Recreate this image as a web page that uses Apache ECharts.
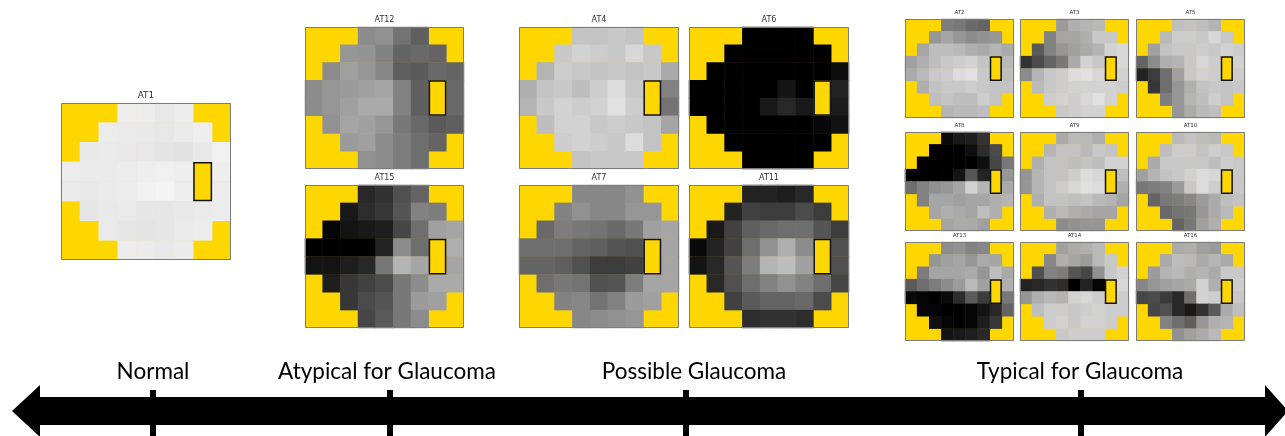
<!DOCTYPE html>
<html>
<head>
<meta charset="utf-8">
<title>Visual field archetypes</title>
<script src="https://cdn.jsdelivr.net/npm/echarts@6/dist/echarts.min.js"></script>
<style>
  html, body { margin: 0; padding: 0; background: #ffffff; }
  #chart { width: 1285px; height: 436px; }
</style>
</head>
<body>
<div id="chart"></div>
<script>
// Grey level (0 = black, 255 = white) of each test location of a 24-2 field,
// one row per line, listed from the first in-field column of that row.
// null marks the blind spot.
const AT1 = [
  [238, 236, 231, 236],
  [236, 234, 233, 231, 234, 238],
  [233, 234, 233, 231, 228, 226, 232, 240],
  [236, 234, 234, 236, 238, 240, 238, null, 238],
  [234, 232, 234, 236, 241, 244, 238, null, 236],
  [230, 233, 234, 230, 230, 232, 234, 236],
  [234, 230, 228, 230, 234, 236],
  [236, 234, 232, 234]
];
const AT12 = [
  [140, 145, 115, 95],
  [150, 148, 130, 100, 105, 100],
  [140, 160, 150, 135, 95, 90, 105, 100],
  [140, 150, 155, 160, 165, 130, 95, null, 105],
  [140, 150, 160, 170, 170, 130, 95, null, 105],
  [145, 165, 160, 150, 120, 105, 90, 95],
  [155, 160, 140, 125, 110, 100],
  [145, 140, 125, 110]
];
const AT15 = [
  [40, 50, 80, 100],
  [25, 45, 55, 85, 130, 125],
  [5, 20, 25, 30, 70, 110, 160, 165],
  [0, 0, 0, 0, 35, 140, 110, null, 175],
  [20, 20, 30, 40, 120, 180, 165, null, 165],
  [30, 55, 65, 75, 120, 140, 170, 170],
  [55, 75, 85, 120, 155, 160],
  [70, 90, 120, 140]
];
const AT4 = [
  [195, 195, 200, 195],
  [200, 210, 205, 200, 215, 200],
  [180, 205, 200, 195, 200, 195, 200, 170],
  [175, 195, 200, 190, 205, 220, 200, null, 130],
  [180, 200, 210, 205, 210, 225, 205, null, 115],
  [190, 210, 210, 200, 205, 200, 195, 165],
  [205, 210, 205, 200, 220, 195],
  [195, 200, 200, 200]
];
const AT6 = [
  [0, 0, 0, 0],
  [0, 0, 0, 0, 0, 0],
  [0, 0, 0, 0, 0, 0, 0, 12],
  [0, 0, 0, 0, 0, 20, 0, null, 35],
  [0, 0, 0, 0, 25, 40, 25, null, 28],
  [0, 0, 0, 0, 0, 0, 8, 18],
  [0, 0, 0, 0, 0, 0],
  [0, 0, 0, 0]
];
const AT7 = [
  [135, 135, 135, 145],
  [130, 145, 135, 135, 150, 150],
  [105, 125, 120, 115, 105, 120, 160, 165],
  [110, 110, 110, 100, 95, 85, 80, null, 165],
  [100, 100, 95, 80, 60, 60, 65, null, 165],
  [110, 120, 115, 80, 85, 125, 165, 165],
  [130, 135, 115, 130, 155, 160],
  [135, 140, 145, 150]
];
const AT11 = [
  [35, 35, 30, 40],
  [35, 65, 60, 60, 75, 60],
  [25, 65, 95, 105, 110, 110, 85, 60],
  [10, 35, 65, 110, 145, 175, 140, null, 80],
  [20, 40, 85, 125, 180, 190, 160, null, 80],
  [40, 80, 110, 130, 145, 130, 110, 70],
  [65, 90, 100, 100, 105, 75],
  [45, 50, 50, 45]
];
const AT2 = [
  [125, 120, 105, 100],
  [150, 165, 150, 140, 145, 150],
  [165, 190, 190, 185, 175, 170, 180, 170],
  [160, 175, 190, 200, 205, 210, 195, null, 185],
  [170, 185, 200, 205, 220, 225, 200, null, 190],
  [175, 195, 200, 200, 205, 200, 195, 195],
  [190, 195, 190, 190, 205, 195],
  [180, 185, 185, 190]
];
const AT3 = [
  [155, 175, 180, 185],
  [130, 165, 165, 175, 200, 200],
  [90, 130, 150, 160, 170, 180, 210, 215],
  [50, 75, 100, 120, 170, 210, 200, null, 215],
  [140, 180, 200, 205, 220, 225, 215, null, 210],
  [185, 200, 205, 210, 210, 210, 210, 205],
  [205, 210, 205, 215, 225, 210],
  [200, 205, 210, 210]
];
const AT5 = [
  [190, 195, 190, 180],
  [185, 205, 205, 200, 215, 200],
  [160, 195, 200, 200, 205, 200, 210, 205],
  [100, 140, 175, 180, 200, 215, 205, null, 210],
  [35, 60, 110, 160, 200, 210, 205, null, 205],
  [55, 110, 150, 175, 195, 200, 195, 200],
  [125, 150, 180, 190, 205, 195],
  [150, 170, 185, 190]
];
const AT8 = [
  [10, 25, 30, 50],
  [0, 0, 0, 15, 45, 75],
  [0, 0, 0, 0, 0, 15, 70, 120],
  [0, 0, 0, 0, 20, 85, 35, null, 150],
  [110, 130, 145, 150, 165, 210, 180, null, 170],
  [130, 165, 165, 160, 165, 165, 175, 180],
  [165, 175, 170, 165, 190, 175],
  [165, 170, 170, 160]
];
const AT9 = [
  [170, 185, 185, 175],
  [180, 195, 195, 185, 200, 195],
  [175, 195, 195, 190, 195, 190, 210, 210],
  [150, 180, 195, 195, 205, 220, 215, null, 190],
  [150, 180, 195, 205, 215, 225, 220, null, 175],
  [175, 195, 195, 190, 195, 185, 180, 165],
  [175, 185, 175, 170, 165, 165],
  [140, 145, 150, 150]
];
const AT10 = [
  [185, 195, 190, 185],
  [190, 205, 205, 195, 205, 200],
  [170, 200, 200, 200, 200, 190, 205, 200],
  [160, 180, 195, 200, 210, 220, 215, null, 200],
  [120, 125, 130, 155, 200, 220, 205, null, 200],
  [100, 120, 125, 135, 155, 170, 190, 195],
  [105, 115, 120, 150, 170, 185],
  [100, 120, 160, 175]
];
const AT13 = [
  [140, 145, 130, 135],
  [150, 160, 165, 150, 170, 165],
  [125, 165, 165, 165, 170, 150, 190, 170],
  [90, 110, 125, 140, 155, 185, 160, null, 175],
  [10, 5, 0, 10, 45, 90, 60, null, 120],
  [5, 5, 0, 0, 5, 20, 40, 100],
  [15, 5, 0, 5, 30, 55],
  [20, 25, 30, 40]
];
const AT14 = [
  [160, 170, 175, 185],
  [135, 175, 165, 155, 185, 200],
  [80, 130, 125, 85, 70, 145, 200, 210],
  [35, 40, 50, 45, 0, 35, 5, null, 215],
  [150, 175, 185, 180, 210, 215, 205, null, 205],
  [190, 205, 205, 200, 205, 210, 205, 205],
  [205, 210, 200, 210, 210, 205],
  [200, 205, 205, 205]
];
const AT16 = [
  [170, 175, 160, 155],
  [170, 190, 185, 170, 180, 170],
  [155, 180, 185, 175, 180, 170, 200, 200],
  [135, 150, 160, 165, 170, 210, 175, null, 205],
  [70, 75, 60, 40, 110, 210, 205, null, 200],
  [70, 80, 40, 25, 50, 90, 170, 190],
  [130, 110, 95, 150, 175, 180],
  [145, 160, 170, 185]
];

const ARCHETYPES = { AT1, AT12, AT15, AT4, AT6, AT7, AT11, AT2, AT3, AT5, AT8, AT9, AT10, AT13, AT14, AT16 };

// Stages along the bottom axis
const STAGES = ['Normal', 'Atypical for Glaucoma', 'Possible Glaucoma', 'Typical for Glaucoma'];

// 24-2 grid: 9 columns x 8 rows, first in-field column of each row
const COLS = ['0', '1', '2', '3', '4', '5', '6', '7', '8'];
const ROWS = ['0', '1', '2', '3', '4', '5', '6', '7'];
const ROW_START = [3, 2, 1, 0, 0, 1, 2, 3];
const BLIND_SPOT = [7, 3];

// ---- layout ----
const YELLOW = '#FFD700';
const PANELS = {
  AT1:  { x: 61,   y: 103, w: 170, h: 157, fs: 9 },
  AT12: { x: 305,  y: 27,  w: 159, h: 142, fs: 8 },
  AT15: { x: 305,  y: 185, w: 159, h: 143, fs: 8 },
  AT4:  { x: 519,  y: 27,  w: 160, h: 142, fs: 8 },
  AT6:  { x: 689,  y: 27,  w: 160, h: 142, fs: 8 },
  AT7:  { x: 519,  y: 185, w: 160, h: 143, fs: 8 },
  AT11: { x: 689,  y: 185, w: 160, h: 143, fs: 8 },
  AT2:  { x: 905,  y: 19,  w: 109, h: 99,  fs: 5.5 },
  AT3:  { x: 1020, y: 19,  w: 109, h: 99,  fs: 5.5 },
  AT5:  { x: 1136, y: 19,  w: 109, h: 99,  fs: 5.5 },
  AT8:  { x: 905,  y: 132, w: 109, h: 99,  fs: 5.5 },
  AT9:  { x: 1020, y: 132, w: 109, h: 99,  fs: 5.5 },
  AT10: { x: 1136, y: 132, w: 109, h: 99,  fs: 5.5 },
  AT13: { x: 905,  y: 242, w: 109, h: 99,  fs: 5.5 },
  AT14: { x: 1020, y: 242, w: 109, h: 99,  fs: 5.5 },
  AT16: { x: 1136, y: 242, w: 109, h: 99,  fs: 5.5 }
};
const STAGE_X = [153, 387, 694, 1080];
const TICK_X = [153, 390, 686, 1081];

function toCells(rows) {
  const out = [];
  rows.forEach((row, r) => {
    row.forEach((v, i) => {
      if (v !== null) out.push([ROW_START[r] + i, r, v]);
    });
  });
  return out;
}

const grid = [], xAxis = [], yAxis = [], series = [], graphic = [], heatIdx = [];

Object.keys(ARCHETYPES).forEach((name, k) => {
  const p = PANELS[name];
  grid.push({ left: p.x, top: p.y, width: p.w, height: p.h, show: true,
              backgroundColor: YELLOW, borderWidth: 0 });
  xAxis.push({ type: 'category', data: COLS, gridIndex: k, show: false });
  yAxis.push({ type: 'category', data: ROWS, gridIndex: k, show: false, inverse: true });
  heatIdx.push(series.length);
  series.push({
    type: 'heatmap', xAxisIndex: k, yAxisIndex: k,
    data: toCells(ARCHETYPES[name]),
    itemStyle: { borderWidth: 0 },
    emphasis: { disabled: true },
    silent: true
  });
  // frame and blind spot
  series.push({
    type: 'custom', xAxisIndex: k, yAxisIndex: k, z: 5, silent: true,
    data: [BLIND_SPOT],
    renderItem: function (params, api) {
      const c = api.coord([api.value(0), api.value(1)]);
      const s = api.size([1, 1]);
      const cs = params.coordSys;
      return {
        type: 'group',
        children: [
          { type: 'rect',
            shape: { x: cs.x + 0.5, y: cs.y + 0.5, width: cs.width - 1, height: cs.height - 1 },
            style: { fill: null, stroke: '#7d7d7d', lineWidth: 1 } },
          { type: 'rect',
            shape: { x: c[0] - s[0] / 2 + 0.75, y: c[1] - s[1] / 2 + 0.75,
                     width: s[0] - 1.5, height: 2 * s[1] - 1.5 },
            style: { fill: YELLOW, stroke: '#111111', lineWidth: 1.5 } }
        ]
      };
    }
  });
  graphic.push({
    type: 'text', x: p.x + p.w / 2, y: p.y - 3,
    style: { text: name, fill: '#333333', font: p.fs + 'px "DejaVu Sans"',
             textAlign: 'center', textVerticalAlign: 'bottom' }
  });
});

// Double-headed stage arrow
const AY = 411;
graphic.push({
  type: 'polygon',
  shape: { points: [
    [12, AY], [40, AY - 26], [40, AY - 14], [1265, AY - 14], [1265, AY - 26], [1288, AY],
    [1265, AY + 26], [1265, AY + 14], [40, AY + 14], [40, AY + 26]
  ] },
  style: { fill: '#000000' }
});
TICK_X.forEach(x => {
  graphic.push({ type: 'rect', shape: { x: x - 3, y: AY - 21, width: 6, height: 46 },
                 style: { fill: '#000000' } });
});
STAGES.forEach((t, i) => {
  graphic.push({
    type: 'text', x: STAGE_X[i], y: 372,
    style: { text: t, fill: '#000000', font: '22.5px Lato',
             textAlign: 'center', textVerticalAlign: 'middle' }
  });
});

const chart = echarts.init(document.getElementById('chart'));
chart.setOption({
  backgroundColor: '#ffffff',
  animation: false,
  grid, xAxis, yAxis, series, graphic,
  visualMap: {
    type: 'continuous', show: false, min: 0, max: 255, dimension: 2,
    seriesIndex: heatIdx,
    inRange: { color: ['#000000', '#ffffff'] }
  }
});
</script>
</body>
</html>
